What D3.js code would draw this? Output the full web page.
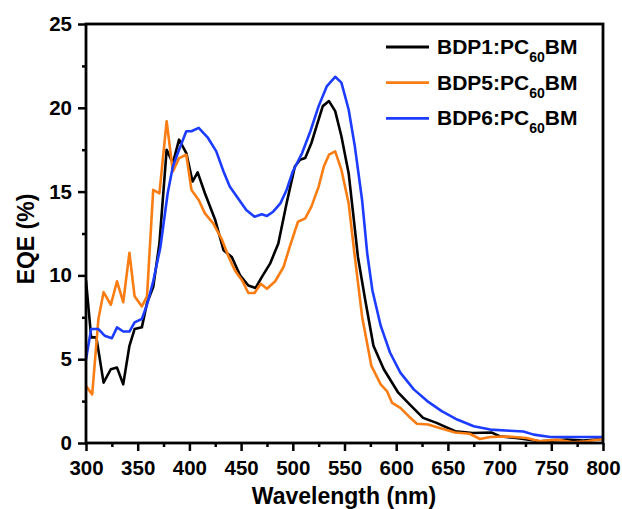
<!DOCTYPE html>
<html>
<head>
<meta charset="utf-8">
<script src="https://cdn.jsdelivr.net/npm/d3@7"></script>
<style>
  body { margin: 0; background: #fff; }
  svg { display: block; font-family: "Liberation Sans", Arial, sans-serif; font-weight: bold; }
</style>
</head>
<body>
<svg width="622" height="509"></svg>
<script>
// EQE spectra (wavelength in nm, EQE in %)
const bdp1Nm  = [300,305,310,317,324,330,336,342,347,354,359,365,371,378,384,390,397,403,408,415,425,433,441,449,457,464,470,478,486,494,502,507,512,518,523,529,535,541,547,554,558,563,570,578,588,602,613,626,639,657,674,692,700,716,739,765,781,800];
const bdp1Eqe = [9.7,6.3,6.3,3.6,4.4,4.5,3.5,5.8,6.8,6.9,8.35,9.3,11.9,17.5,16.7,18.1,17.3,15.6,16.15,14.9,13.3,11.5,11.1,10.0,9.4,9.25,9.9,10.7,11.9,14.3,16.5,16.9,17.0,17.9,18.9,20.1,20.4,19.8,18.3,16.1,13.9,11.1,8.55,5.8,4.4,3.0,2.3,1.5,1.2,0.7,0.6,0.63,0.4,0.3,0.1,0.2,0.15,0.24];

const bdp5Nm  = [300,306,312,317,324,330,336,342,347,354,359,365,371,378,384,390,397,402,409,415,423,431,438,444,451,457,463,469,475,483,491,497,505,512,518,525,530,535,541,547,554,560,567,576,585,591,596,604,612,620,631,642,657,671,681,691,707,726,739,755,771,784,800];
const bdp5Eqe = [3.4,2.9,7.4,9.0,8.25,9.65,8.4,11.35,8.75,8.15,8.75,15.1,14.9,19.2,16.2,17.0,17.2,15.1,14.5,13.7,13.1,12.2,11.1,10.3,9.7,8.95,8.95,9.5,9.2,9.65,10.5,11.7,13.2,13.4,14.1,15.3,16.5,17.2,17.4,16.3,14.3,11.1,7.55,4.6,3.5,3.1,2.4,2.1,1.6,1.15,1.1,0.9,0.63,0.55,0.24,0.36,0.39,0.3,0.1,0.2,0.04,0.1,0.24];

const bdp6Nm  = [300,305,312,318,325,330,336,342,347,354,359,365,372,379,384,390,397,402,409,418,426,433,439,447,455,463,470,475,481,488,494,500,509,517,525,533,541,547,554,560,567,572,577,585,594,604,617,630,644,659,675,691,710,723,733,749,771,800];
const bdp6Eqe = [5.0,6.8,6.8,6.4,6.25,6.9,6.65,6.65,7.2,7.4,8.25,9.65,11.7,14.9,16.5,17.5,18.6,18.6,18.8,18.2,17.4,16.2,15.3,14.6,13.9,13.5,13.65,13.55,13.8,14.3,15.1,16.2,17.3,18.6,20.1,21.3,21.85,21.5,19.9,17.7,14.5,11.3,9.1,7.0,5.4,4.2,3.2,2.5,1.9,1.4,1.0,0.8,0.73,0.69,0.5,0.36,0.36,0.36];

const seriesNames  = ["BDP1", "BDP5", "BDP6"];
const seriesColors = ["#000000", "#fa7d14", "#1c3cff"];

const xTicks = [300,350,400,450,500,550,600,650,700,750,800];
const yTicks = [0,5,10,15,20,25];

const svg = d3.select("svg");
const plotL = 86, plotR = 603, plotT = 24, plotB = 443;

const x = d3.scaleLinear().domain([300, 800]).range([plotL, plotR]);
const y = d3.scaleLinear().domain([0, 25]).range([plotB, plotT]);

const series = [
  d3.zip(bdp1Nm, bdp1Eqe),
  d3.zip(bdp5Nm, bdp5Eqe),
  d3.zip(bdp6Nm, bdp6Eqe)
];

const line = d3.line()
  .x(d => x(d[0]))
  .y(d => y(d[1]));

// curves (clipped to the frame)
svg.append("clipPath").attr("id", "clip")
  .append("rect").attr("x", plotL).attr("y", plotT)
  .attr("width", plotR - plotL).attr("height", plotB - plotT);

series.forEach((s, i) => {
  svg.append("path")
    .datum(s)
    .attr("clip-path", "url(#clip)")
    .attr("fill", "none")
    .attr("stroke", seriesColors[i])
    .attr("stroke-width", 2.6)
    .attr("stroke-linejoin", "round")
    .attr("d", line);
});

// minor ticks
const xMinor = d3.range(325, 800, 50);
const yMinor = d3.range(2.5, 25, 5);

svg.append("g")
  .attr("transform", `translate(0,${plotB})`)
  .call(d3.axisBottom(x).tickValues(xTicks).tickSize(8).tickPadding(9).tickFormat(d3.format("d")));
svg.append("g")
  .attr("transform", `translate(0,${plotB})`)
  .call(d3.axisBottom(x).tickValues(xMinor).tickSize(4).tickFormat(""));

svg.append("g")
  .attr("transform", `translate(${plotL},0)`)
  .call(d3.axisLeft(y).tickValues(yTicks).tickSize(8).tickPadding(6).tickFormat(d3.format("d")));
svg.append("g")
  .attr("transform", `translate(${plotL},0)`)
  .call(d3.axisLeft(y).tickValues(yMinor).tickSize(4).tickFormat(""));

svg.selectAll(".tick line").attr("stroke-width", 2.5);
svg.selectAll(".domain").remove();
svg.selectAll(".tick text")
  .attr("font-size", 20.5)
  .attr("font-weight", "bold")
  .attr("font-family", "Liberation Sans, Arial, sans-serif")
  .attr("fill", "#000");

// frame
svg.append("rect")
  .attr("x", plotL).attr("y", plotT)
  .attr("width", plotR - plotL).attr("height", plotB - plotT)
  .attr("fill", "none")
  .attr("stroke", "#000")
  .attr("stroke-width", 2.8);

// axis titles
svg.append("text")
  .attr("x", 344)
  .attr("y", 504)
  .attr("text-anchor", "middle")
  .attr("font-size", 23)
  .text("Wavelength (nm)");

svg.append("text")
  .attr("transform", "translate(34,239) rotate(-90)")
  .attr("text-anchor", "middle")
  .attr("font-size", 23)
  .text("EQE (%)");

// legend
const legend = svg.append("g");
seriesNames.forEach((name, i) => {
  const ly = 47 + i * 35.7;
  legend.append("line")
    .attr("x1", 386).attr("x2", 429)
    .attr("y1", ly).attr("y2", ly)
    .attr("stroke", seriesColors[i])
    .attr("stroke-width", 2.8);
  const t = legend.append("text")
    .attr("x", 437)
    .attr("y", ly + 7)
    .attr("font-size", 21);
  t.append("tspan").text(name + ":PC");
  t.append("tspan").attr("font-size", 14).attr("dy", 8).text("60");
  t.append("tspan").attr("dy", -8).text("BM");
});
</script>
</body>
</html>
